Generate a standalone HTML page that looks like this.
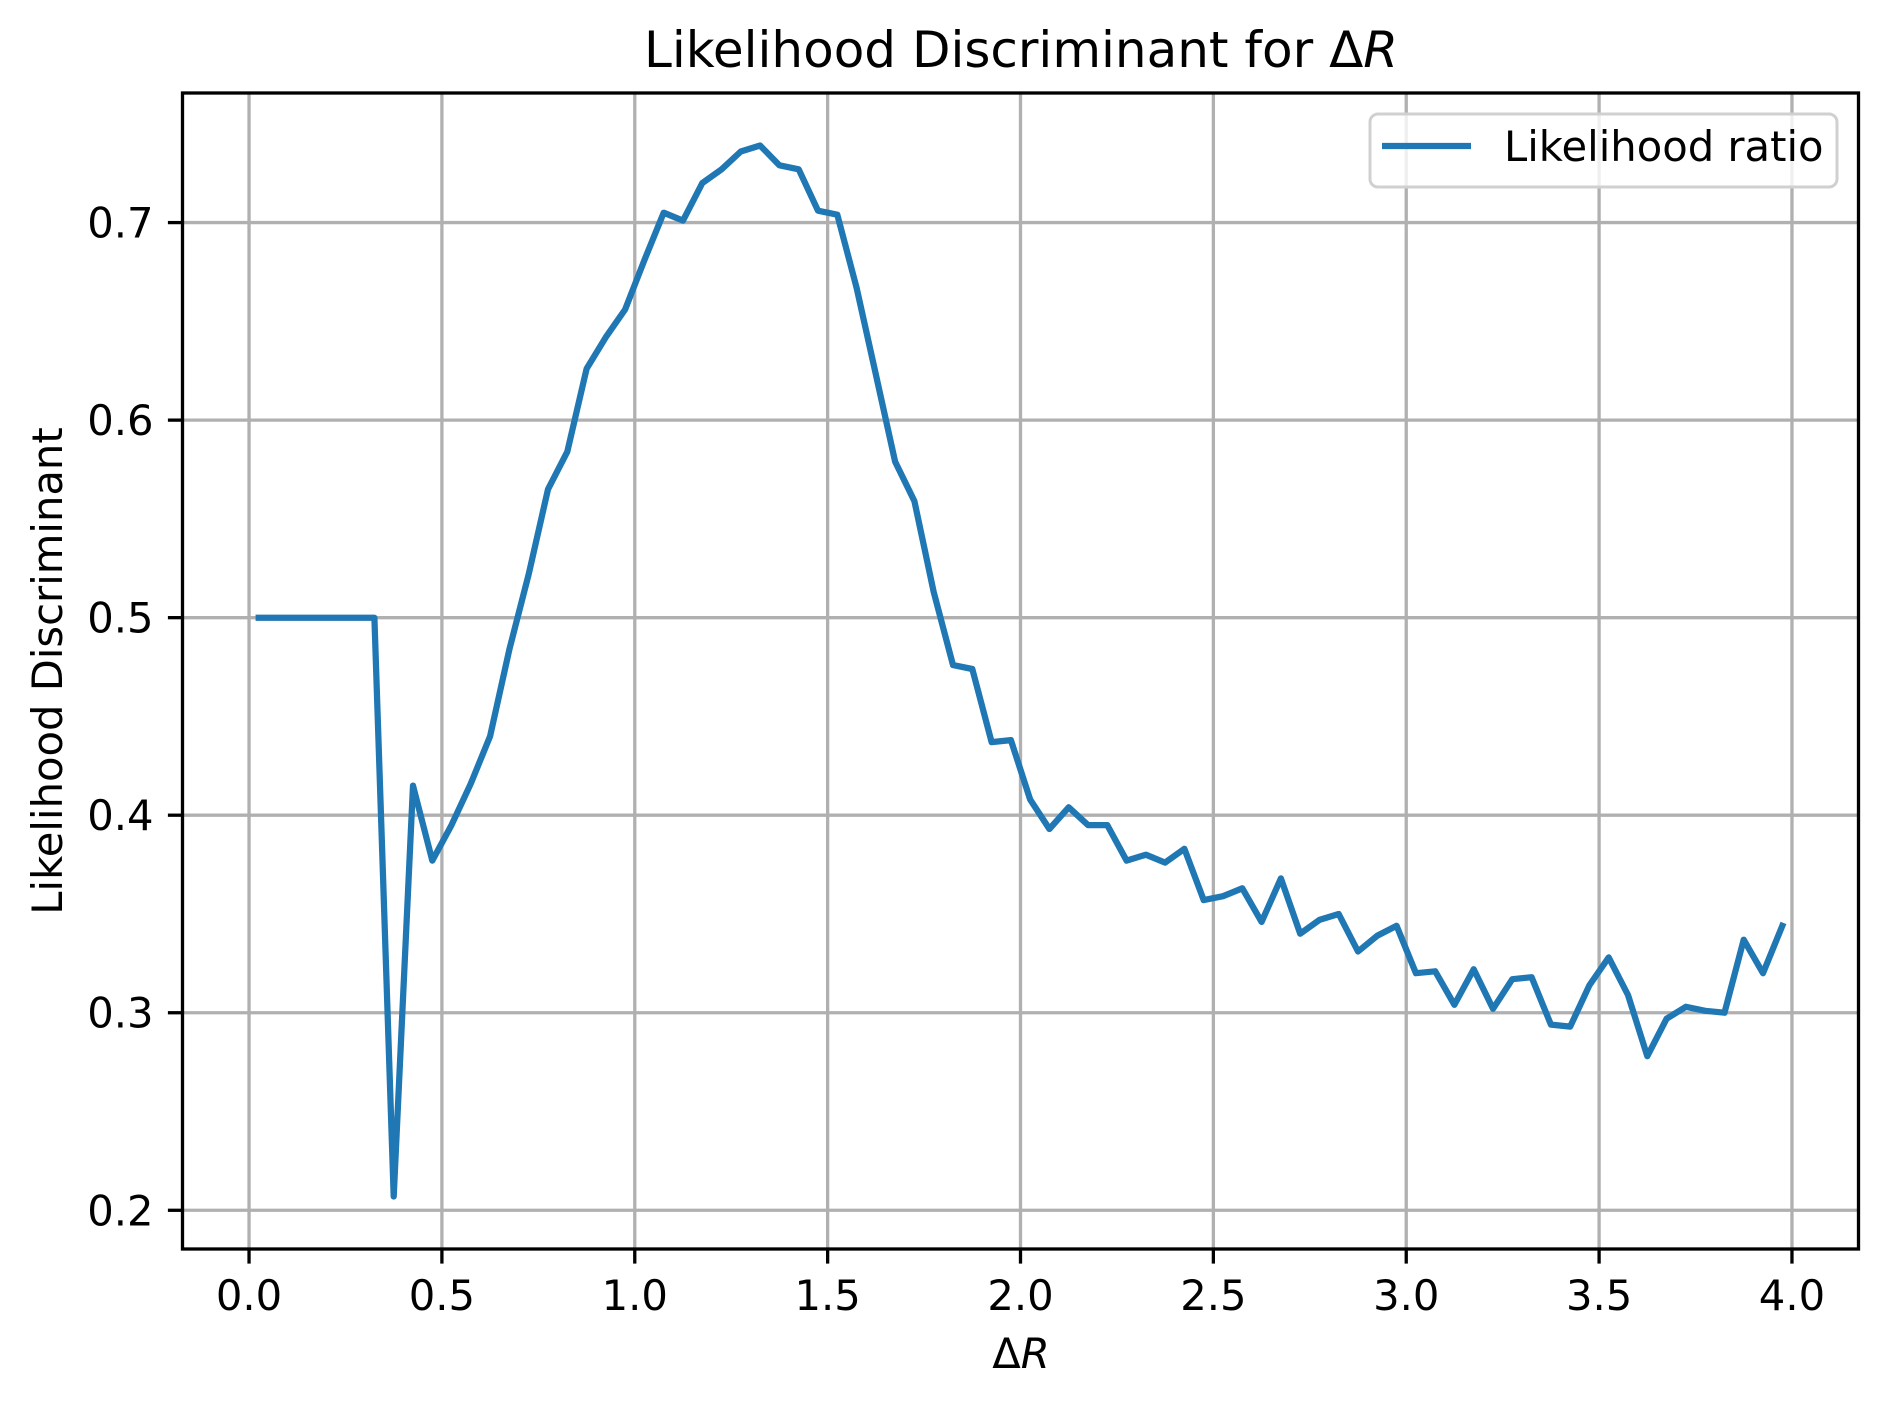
<!DOCTYPE html>
<html><head><meta charset="utf-8"><style>
html,body{margin:0;padding:0;background:#fff;}
svg{display:block;font-family:"DejaVu Sans","Liberation Sans",sans-serif;}
</style></head><body>
<svg id="chart" width="1887" height="1405" viewBox="0 0 1887 1405" xmlns="http://www.w3.org/2000/svg">
<rect x="0" y="0" width="1887" height="1405" fill="#fff"/>
<text x="1021" y="67" font-size="50" text-anchor="middle">Likelihood Discriminant for Δ<tspan font-style="italic">R</tspan></text>
<g id="grid"></g>
<g id="series"></g>
<rect x="182.5" y="93" width="1676" height="1156" fill="none" stroke="#000" stroke-width="3.3"/>
<g id="ticks"></g>
<text x="1021" y="1368" font-size="41.7" text-anchor="middle">Δ<tspan font-style="italic">R</tspan></text>
<text transform="translate(62,671) rotate(-90)" font-size="41.7" text-anchor="middle">Likelihood Discriminant</text>
<g>
<rect x="1370" y="114" width="467" height="73" rx="8" fill="#fff" fill-opacity="0.8" stroke="#d0d0d0" stroke-width="3"/>
<line x1="1382" y1="146" x2="1471" y2="146" stroke="#1f77b4" stroke-width="6.25"/>
<text x="1504" y="161" font-size="41.7">Likelihood ratio</text>
</g>
</svg>
<script>
const xValues = [0.025,0.075,0.125,0.175,0.225,0.275,0.325,0.375,0.425,0.475,0.525,0.575,0.625,0.675,0.725,0.775,0.825,0.875,0.925,0.975,1.025,1.075,1.125,1.175,1.225,1.275,1.325,1.375,1.425,1.475,1.525,1.575,1.625,1.675,1.725,1.775,1.825,1.875,1.925,1.975,2.025,2.075,2.125,2.175,2.225,2.275,2.325,2.375,2.425,2.475,2.525,2.575,2.625,2.675,2.725,2.775,2.825,2.875,2.925,2.975,3.025,3.075,3.125,3.175,3.225,3.275,3.325,3.375,3.425,3.475,3.525,3.575,3.625,3.675,3.725,3.775,3.825,3.875,3.925,3.975];
const likelihoodRatio = [0.5,0.5,0.5,0.5,0.5,0.5,0.5,0.207,0.415,0.377,0.395,0.416,0.44,0.484,0.522,0.565,0.584,0.626,0.642,0.656,0.681,0.705,0.701,0.720,0.727,0.736,0.739,0.729,0.727,0.706,0.704,0.667,0.623,0.579,0.559,0.513,0.476,0.474,0.437,0.438,0.408,0.393,0.404,0.395,0.395,0.377,0.380,0.376,0.383,0.357,0.359,0.363,0.346,0.368,0.340,0.347,0.350,0.331,0.339,0.344,0.320,0.321,0.304,0.322,0.302,0.317,0.318,0.294,0.293,0.314,0.328,0.309,0.278,0.297,0.303,0.301,0.300,0.337,0.320,0.344];
const xTicks = [0.0,0.5,1.0,1.5,2.0,2.5,3.0,3.5,4.0];
const xTickLabels = ["0.0","0.5","1.0","1.5","2.0","2.5","3.0","3.5","4.0"];
const yTicks = [0.2,0.3,0.4,0.5,0.6,0.7];
const yTickLabels = ["0.2","0.3","0.4","0.5","0.6","0.7"];

const NS = "http://www.w3.org/2000/svg";
const L = 182.5, R = 1858.5, T = 93, B = 1249;
const xmin0 = Math.min(...xValues), xmax0 = Math.max(...xValues);
const ymin0 = Math.min(...likelihoodRatio), ymax0 = Math.max(...likelihoodRatio);
const xm = (xmax0 - xmin0) * 0.05, ym = (ymax0 - ymin0) * 0.05;
const xlo = xmin0 - xm, xhi = xmax0 + xm, ylo = ymin0 - ym, yhi = ymax0 + ym;
function sx(v){ return L + (v - xlo) / (xhi - xlo) * (R - L); }
function sy(v){ return B - (v - ylo) / (yhi - ylo) * (B - T); }
function mk(tag, attrs){ const e = document.createElementNS(NS, tag); for (const k in attrs) e.setAttribute(k, attrs[k]); return e; }

const grid = document.getElementById('grid');
const ticks = document.getElementById('ticks');
xTicks.forEach((t, i) => {
  const x = sx(t);
  const g = mk('line', {x1:x, y1:T, x2:x, y2:B, stroke:'#b0b0b0', 'stroke-width':3.3});
  
  
  grid.appendChild(g);
  const tk = mk('line', {x1:x, y1:B, x2:x, y2:B+14.6, stroke:'#000', 'stroke-width':3.3});
  
  
  ticks.appendChild(tk);
  const tx = mk('text', {x:x, y:B+29+32, 'font-size':41.7, 'text-anchor':'middle'});
  
  
  tx.textContent = xTickLabels[i];
  ticks.appendChild(tx);
});
yTicks.forEach((t, i) => {
  const y = sy(t);
  const g = mk('line', {x1:L, y1:y, x2:R, y2:y, stroke:'#b0b0b0', 'stroke-width':3.3});
  
  
  grid.appendChild(g);
  const tk = mk('line', {x1:L-14.6, y1:y, x2:L, y2:y, stroke:'#000', 'stroke-width':3.3});
  
  
  ticks.appendChild(tk);
  const tx = mk('text', {x:L-29, y:y+15, 'font-size':41.7, 'text-anchor':'end'});
  
  
  tx.textContent = yTickLabels[i];
  ticks.appendChild(tx);
});
const pts = xValues.map((x, i) => sx(x).toFixed(1) + ',' + sy(likelihoodRatio[i]).toFixed(1)).join(' ');
const line = mk('polyline', {points:pts, fill:'none', stroke:'#1f77b4', 'stroke-width':6.25, 'stroke-linejoin':'round', 'stroke-linecap':'square'});


document.getElementById('series').appendChild(line);
</script>
</body></html>
